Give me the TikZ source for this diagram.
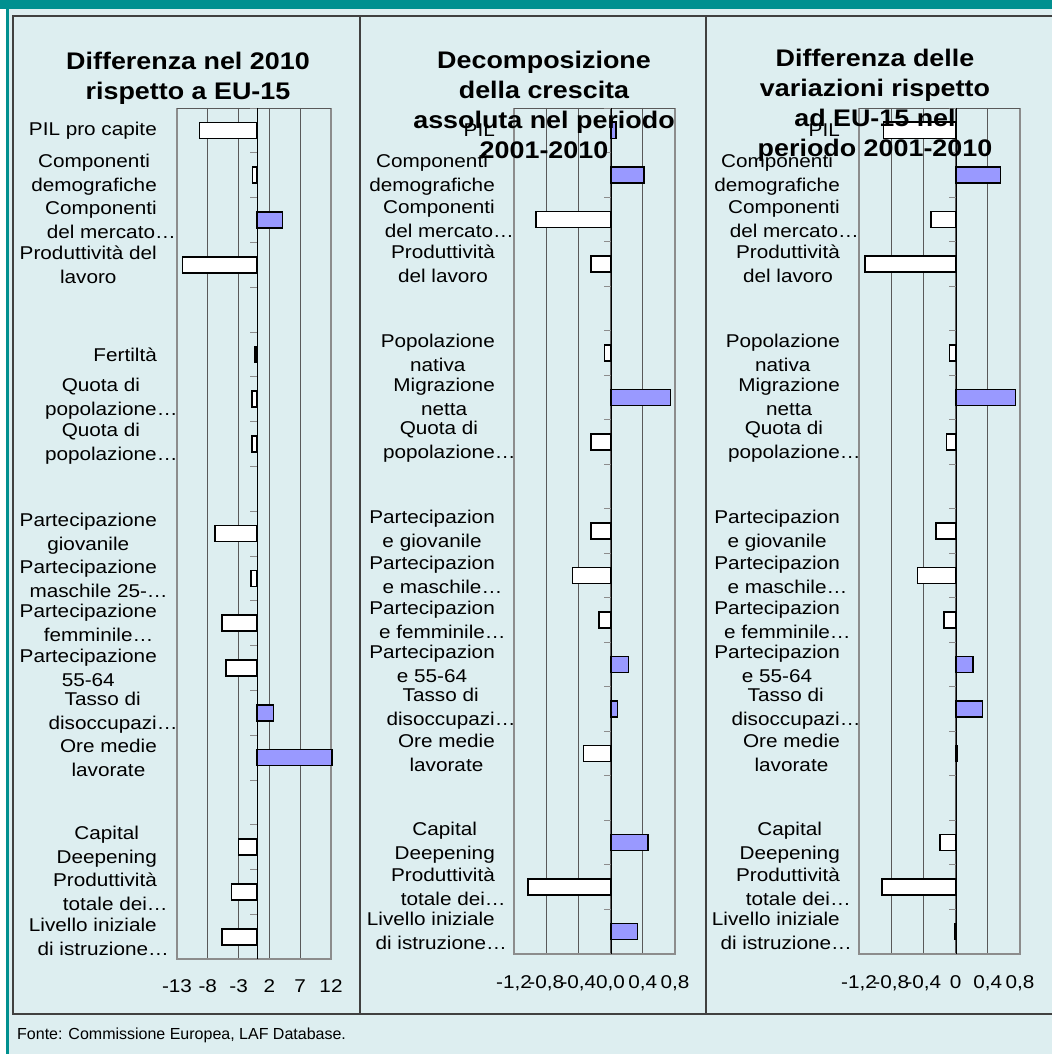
\documentclass[tikz,border=0pt]{standalone}
\usepackage{fontspec}
\usepackage{xcolor}
\usepackage{tikz}
\usetikzlibrary{positioning}
\newfontfamily\chartfont[FakeStretch=1.12]{Liberation Sans}
\newfontfamily\notefont{Liberation Sans}
\newcommand{\elide}{\rlap{…}}
\definecolor{bgteal}{HTML}{DDEEF0}
\definecolor{topteal}{HTML}{009090}
\definecolor{barblue}{HTML}{9999FF}
\definecolor{framegray}{HTML}{8C8C8C}
\definecolor{gridgray}{HTML}{595959}
\definecolor{panelgray}{HTML}{404040}
\tikzset{
  lbl/.style={anchor=east, align=center, inner sep=0pt, font=\chartfont\fontsize{18.5}{24}\selectfont},
  ttl/.style={anchor=base, align=center, inner sep=0pt, font=\chartfont\bfseries\fontsize{24}{30}\selectfont},
  ticklbl/.style={anchor=base, inner sep=0pt, font=\chartfont\fontsize{18.5}{24}\selectfont},
  hbar/.style={draw=black, line width=1.5pt},
  gridln/.style={gridgray, line width=0.8pt},
  frameln/.style={framegray, line width=2pt},
  catmark/.style={framegray, line width=0.8pt}
}
\begin{document}
\begin{tikzpicture}[x = 1pt, y = -1pt]
\useasboundingbox (0,0) rectangle (1052,1054);
\fill[white] (0,0) rectangle (1052,1054);
\fill[bgteal] (6,0) rectangle (1052,1054);
\fill[topteal] (0,0) rectangle (1052,9);
\fill[topteal] (6,9) rectangle (8.5,1054);
\draw[panelgray, line width=1.2pt] (1052,16) -- (13,16) -- (13,1014) -- (1052,1014);
\draw[panelgray, line width=1.2pt] (360,16) -- (360,1014);
\draw[panelgray, line width=1.2pt] (706,16) -- (706,1014);

% panel A: Differenza nel 2010
\foreach \k in {1,...,4} \draw[gridln] ({177+\k*30.8},108) -- ({177+\k*30.8},959);
\draw[frameln] (177,108) -- (177,959) -- (331,959) -- (331,108);
\draw[gridln] (177,108) -- (331,108);
\draw[black, line width=1pt] (257,108) -- (257,959);
\foreach \k in {0,...,19} \draw[catmark] (250,{108+\k*44.8}) -- (257,{108+\k*44.8});
\foreach \i/\val/\col in {1/-9.3/white, 2/-0.7/white, 3/4.1/barblue, 4/-12.1/white,
    6/-0.3/white, 7/-0.8/white, 8/-0.8/white, 10/-6.8/white, 11/-1.0/white,
    12/-5.7/white, 13/-5.0/white, 14/2.7/barblue, 15/12.2/barblue,
    17/-3.0/white, 18/-4.1/white, 19/-5.7/white}
  \draw[hbar, fill=\col] (257,{108+(\i-0.5)*44.8-8}) rectangle ({257+\val*6.16},{108+(\i-0.5)*44.8+8});
\foreach \i/\txt in {1/{PIL pro capite}, 2/{Componenti\\demografiche}, 3/{Componenti\\del mercato\elide},
    4/{Produttività del\\lavoro}, 6/{Fertiltà}, 7/{Quota di\\popolazione\elide}, 8/{Quota di\\popolazione\elide},
    10/{Partecipazione\\giovanile}, 11/{Partecipazione\\maschile 25-\elide}, 12/{Partecipazione\\femminile\elide},
    13/{Partecipazione\\55-64}, 14/{Tasso di\\disoccupazi\elide}, 15/{Ore medie\\lavorate},
    17/{Capital\\Deepening}, 18/{Produttività\\totale dei\elide}, 19/{Livello iniziale\\di istruzione\elide}}
  \node[lbl] (lA\i) at (157,{108+(\i-0.5)*44.8}) {\txt};
\foreach \k/\txt in {0/-13, 1/-8, 2/-3, 3/2, 4/7, 5/12}
  \node[ticklbl] (tA\k) at ({177+\k*30.8},992) {\txt};

% panel B: Decomposizione
\foreach \k in {1,...,4} \draw[gridln] ({514+\k*32.2},108) -- ({514+\k*32.2},954);
\draw[frameln] (514,108) -- (514,954) -- (675,954) -- (675,108);
\draw[gridln] (514,108) -- (675,108);
\draw[black, line width=1pt] (611,108) -- (611,954);
\foreach \k in {0,...,19} \draw[catmark] (604,{108+\k*44.5}) -- (611,{108+\k*44.5});
\foreach \i/\val/\col in {1/0.06/barblue, 2/0.41/barblue, 3/-0.93/white, 4/-0.25/white,
    6/-0.08/white, 7/0.74/barblue, 8/-0.25/white, 10/-0.25/white, 11/-0.48/white,
    12/-0.15/white, 13/0.22/barblue, 14/0.08/barblue, 15/-0.34/white,
    17/0.46/barblue, 18/-1.03/white, 19/0.33/barblue}
  \draw[hbar, fill=\col] (611,{108+(\i-0.5)*44.5-8}) rectangle ({611+\val*80.5},{108+(\i-0.5)*44.5+8});
\foreach \i/\txt in {1/{PIL}, 2/{Componenti\\demografiche}, 3/{Componenti\\del mercato\elide},
    4/{Produttività\\del lavoro}, 6/{Popolazione\\nativa}, 7/{Migrazione\\netta}, 8/{Quota di\\popolazione\elide},
    10/{Partecipazion\\e giovanile}, 11/{Partecipazion\\e maschile\elide}, 12/{Partecipazion\\e femminile\elide},
    13/{Partecipazion\\e 55-64}, 14/{Tasso di\\disoccupazi\elide}, 15/{Ore medie\\lavorate},
    17/{Capital\\Deepening}, 18/{Produttività\\totale dei\elide}, 19/{Livello iniziale\\di istruzione\elide}}
  \node[lbl] (lB\i) at (495,{108+(\i-0.5)*44.5}) {\txt};
\foreach \k/\txt in {0/-1{,}2, 1/-0{,}8, 2/-0{,}4, 3/0{,}0, 4/0{,}4, 5/0{,}8}
  \node[ticklbl] (tB\k) at ({514+\k*32.2},988) {\txt};

% panel C: Differenza delle variazioni
\foreach \k in {1,...,4} \draw[gridln] ({859+\k*32.2},108) -- ({859+\k*32.2},954);
\draw[frameln] (859,108) -- (859,954) -- (1020,954) -- (1020,108);
\draw[gridln] (859,108) -- (1020,108);
\draw[black, line width=1pt] (956,108) -- (956,954);
\foreach \k in {0,...,19} \draw[catmark] (949,{108+\k*44.5}) -- (956,{108+\k*44.5});
\foreach \i/\val/\col in {1/-0.90/white, 2/0.55/barblue, 3/-0.31/white, 4/-1.13/white,
    6/-0.08/white, 7/0.74/barblue, 8/-0.12/white, 10/-0.25/white, 11/-0.48/white,
    12/-0.15/white, 13/0.21/barblue, 14/0.33/barblue, 15/0.02/barblue,
    17/-0.20/white, 18/-0.92/white, 19/-0.02/white}
  \draw[hbar, fill=\col] (956,{108+(\i-0.5)*44.5-8}) rectangle ({956+\val*80.5},{108+(\i-0.5)*44.5+8});
\foreach \i/\txt in {1/{PIL}, 2/{Componenti\\demografiche}, 3/{Componenti\\del mercato\elide},
    4/{Produttività\\del lavoro}, 6/{Popolazione\\nativa}, 7/{Migrazione\\netta}, 8/{Quota di\\popolazione\elide},
    10/{Partecipazion\\e giovanile}, 11/{Partecipazion\\e maschile\elide}, 12/{Partecipazion\\e femminile\elide},
    13/{Partecipazion\\e 55-64}, 14/{Tasso di\\disoccupazi\elide}, 15/{Ore medie\\lavorate},
    17/{Capital\\Deepening}, 18/{Produttività\\totale dei\elide}, 19/{Livello iniziale\\di istruzione\elide}}
  \node[lbl] (lC\i) at (840,{108+(\i-0.5)*44.5}) {\txt};
\foreach \k/\txt in {0/-1{,}2, 1/-0{,}8, 2/-0{,}4, 3/0, 4/0{,}4, 5/0{,}8}
  \node[ticklbl] (tC\k) at ({859+\k*32.2},988) {\txt};

% titles over the plots (anchored on the last line)
\node[ttl] (ttlA) at (188,100) {Differenza nel 2010\\rispetto a EU-15};
\node[ttl] (ttlB) at (544,158) {Decomposizione\\della crescita\\assoluta nel periodo\\2001-2010};
\node[ttl] (ttlC) at (875,157) {Differenza delle\\variazioni rispetto\\ad EU-15 nel\\periodo 2001-2010};

\node[anchor=base west, inner sep=0pt, font=\notefont\fontsize{16}{19}\selectfont] (src) at (17,1039) {Fonte: Commissione Europea, LAF Database.};
\end{tikzpicture}
\end{document}
